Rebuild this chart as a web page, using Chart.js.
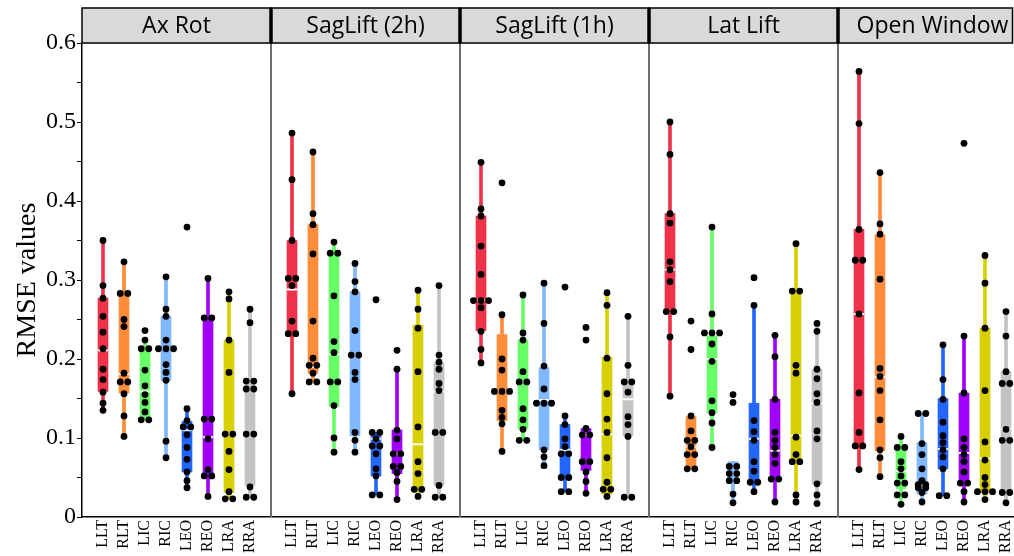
<!DOCTYPE html>
<html>
<head>
<meta charset="utf-8">
<script src="https://cdn.jsdelivr.net/npm/chart.js@4.4.1/dist/chart.umd.min.js"></script>
<style>
html,body{margin:0;padding:0;background:#fff;overflow:hidden;}
#wrap{width:1014px;height:556px;}
canvas{display:block;}
</style>
</head>
<body>
<div id="wrap"><canvas id="c" width="1014" height="556"></canvas></div>
<script>
// ---- categories, panels, colours ----
const categories = ['LLT','RLT','LIC','RIC','LEO','REO','LRA','RRA'];
const panels = ['Ax Rot','SagLift (2h)','SagLift (1h)','Lat Lift','Open Window'];
const catColors = ['#ee324a','#ff8c38','#66ff66','#7fb8ff','#2266ff','#a000ff','#d8cf00','#c3c3c3'];

// ---- box statistics per category: [whiskerLow, q1, median, q3, whiskerHigh] ----
const axRotStats = [
  [0.135,0.159,0.211,0.277,0.350],[0.102,0.157,0.181,0.283,0.323],[0.123,0.123,0.159,0.213,0.224],[0.075,0.173,0.213,0.254,0.304],
  [0.037,0.057,0.110,0.121,0.137],[0.026,0.052,0.101,0.252,0.302],[0.023,0.031,0.105,0.224,0.285],[0.025,0.040,0.105,0.172,0.263]
];
const sag2hStats = [
  [0.156,0.229,0.288,0.350,0.486],[0.171,0.182,0.190,0.370,0.462],[0.082,0.140,0.206,0.334,0.348],[0.082,0.103,0.205,0.285,0.321],
  [0.028,0.052,0.099,0.107,0.107],[0.022,0.055,0.080,0.110,0.187],[0.026,0.031,0.092,0.243,0.287],[0.025,0.040,0.159,0.195,0.293]
];
const sag1hStats = [
  [0.195,0.236,0.274,0.381,0.449],[0.083,0.122,0.159,0.231,0.256],[0.097,0.112,0.171,0.224,0.281],[0.065,0.085,0.148,0.189,0.296],
  [0.032,0.050,0.085,0.117,0.128],[0.030,0.059,0.104,0.112,0.112],[0.026,0.029,0.105,0.202,0.284],[0.025,0.103,0.149,0.171,0.254]
];
const latLiftStats = [
  [0.153,0.260,0.313,0.384,0.500],[0.061,0.064,0.089,0.127,0.128],[0.088,0.132,0.200,0.229,0.367],[0.018,0.045,0.055,0.070,0.070],
  [0.032,0.043,0.099,0.144,0.268],[0.019,0.052,0.084,0.149,0.230],[0.019,0.070,0.103,0.286,0.346],[0.017,0.042,0.144,0.187,0.245]
];
const openWinStats = [
  [0.060,0.090,0.257,0.364,0.564],[0.051,0.084,0.177,0.357,0.436],[0.016,0.036,0.058,0.088,0.102],[0.019,0.029,0.041,0.094,0.131],
  [0.027,0.061,0.086,0.150,0.218],[0.019,0.043,0.081,0.157,0.229],[0.022,0.031,0.074,0.239,0.331],[0.018,0.031,0.111,0.184,0.260]
];

// ---- individual values per category ----
const axRotPoints = [
  [0.350,0.293,0.277,0.254,0.234,0.213,0.187,0.174,0.158,0.144,0.135],
  [0.323,0.283,0.283,0.250,0.241,0.182,0.171,0.171,0.156,0.128,0.102],
  [0.236,0.224,0.213,0.213,0.186,0.166,0.155,0.145,0.133,0.123,0.123],
  [0.304,0.263,0.254,0.224,0.213,0.213,0.213,0.193,0.183,0.173,0.096,0.075],
  [0.367,0.137,0.122,0.114,0.114,0.104,0.088,0.073,0.057,0.046,0.037],
  [0.302,0.252,0.252,0.124,0.124,0.099,0.060,0.052,0.052,0.026],
  [0.285,0.276,0.224,0.183,0.105,0.105,0.083,0.060,0.032,0.023,0.023],
  [0.263,0.246,0.172,0.172,0.162,0.162,0.105,0.105,0.038,0.025,0.025]
];
const sag2hPoints = [
  [0.486,0.427,0.350,0.302,0.302,0.293,0.248,0.232,0.232,0.156],
  [0.462,0.384,0.370,0.333,0.248,0.201,0.192,0.192,0.182,0.171,0.171],
  [0.348,0.334,0.334,0.280,0.222,0.208,0.171,0.171,0.141,0.100,0.082],
  [0.321,0.298,0.285,0.236,0.205,0.205,0.183,0.174,0.107,0.097,0.082],
  [0.275,0.107,0.107,0.099,0.090,0.090,0.080,0.061,0.052,0.028,0.028],
  [0.211,0.187,0.110,0.099,0.080,0.080,0.064,0.064,0.056,0.045,0.022],
  [0.287,0.263,0.239,0.184,0.114,0.070,0.055,0.035,0.035,0.026],
  [0.293,0.205,0.196,0.187,0.169,0.160,0.107,0.107,0.040,0.025,0.025]
];
const sag1hPoints = [
  [0.449,0.390,0.381,0.343,0.307,0.274,0.274,0.274,0.265,0.235,0.212,0.195],
  [0.423,0.256,0.200,0.186,0.159,0.159,0.159,0.135,0.126,0.118,0.083],
  [0.281,0.233,0.224,0.184,0.171,0.171,0.137,0.123,0.111,0.097,0.097],
  [0.296,0.245,0.191,0.162,0.144,0.144,0.144,0.085,0.076,0.065],
  [0.291,0.128,0.117,0.099,0.089,0.080,0.080,0.050,0.050,0.032,0.032],
  [0.240,0.224,0.112,0.104,0.104,0.070,0.070,0.057,0.045,0.030],
  [0.284,0.268,0.201,0.156,0.124,0.107,0.075,0.044,0.035,0.035,0.026],
  [0.254,0.192,0.171,0.171,0.158,0.127,0.117,0.102,0.025,0.025]
];
const latLiftPoints = [
  [0.500,0.459,0.384,0.372,0.323,0.313,0.298,0.260,0.260,0.228,0.153],
  [0.248,0.212,0.128,0.109,0.097,0.097,0.089,0.079,0.079,0.061,0.061],
  [0.367,0.257,0.233,0.233,0.233,0.219,0.197,0.147,0.132,0.119,0.088],
  [0.155,0.145,0.064,0.064,0.055,0.055,0.046,0.046,0.029,0.018],
  [0.303,0.268,0.122,0.108,0.097,0.070,0.058,0.044,0.044,0.032],
  [0.230,0.203,0.149,0.107,0.097,0.088,0.079,0.068,0.048,0.048,0.019],
  [0.346,0.286,0.286,0.192,0.182,0.101,0.079,0.070,0.070,0.028,0.019],
  [0.245,0.235,0.187,0.175,0.156,0.145,0.109,0.099,0.042,0.028,0.017]
];
const openWinPoints = [
  [0.564,0.498,0.364,0.325,0.325,0.257,0.157,0.107,0.090,0.090,0.060],
  [0.436,0.371,0.358,0.301,0.188,0.178,0.160,0.123,0.085,0.075,0.051],
  [0.102,0.088,0.088,0.070,0.061,0.052,0.043,0.043,0.028,0.028,0.016],
  [0.131,0.131,0.093,0.079,0.061,0.046,0.041,0.041,0.037,0.037,0.031,0.019],
  [0.218,0.174,0.149,0.120,0.103,0.094,0.085,0.076,0.061,0.027,0.027],
  [0.473,0.229,0.157,0.099,0.088,0.079,0.070,0.057,0.043,0.043,0.032,0.019],
  [0.331,0.296,0.239,0.160,0.095,0.072,0.050,0.041,0.032,0.032,0.032,0.022],
  [0.260,0.229,0.184,0.169,0.169,0.111,0.097,0.097,0.031,0.031,0.018]
];

const yTickValues = [0,0.1,0.2,0.3,0.4,0.5,0.6];

// ---- build datasets ----
const allStats = [axRotStats, sag2hStats, sag1hStats, latLiftStats, openWinStats];
const allPoints = [axRotPoints, sag2hPoints, sag1hPoints, latLiftPoints, openWinPoints];
const SLOTS = 9;               // 8 categories + 1 gap per panel
const pos = (p, i) => p * SLOTS + 1 + i;
const DODGE = 0.36;            // horizontal spacing of tied dots (in category units)

const whiskers = [], boxes = [], medians = [], dots = [], barColors = [];
allStats.forEach((stats, p) => {
  stats.forEach((s, i) => {
    const x = pos(p, i);
    whiskers.push({x: x, y: [s[0], s[4]]});
    boxes.push({x: x, y: [s[1], s[3]]});
    medians.push({x: x, y: s[2]});
    barColors.push(catColors[i]);
  });
});
allPoints.forEach((cats, p) => {
  cats.forEach((vals, i) => {
    const x = pos(p, i);
    const groups = {};
    vals.forEach(v => { (groups[v] = groups[v] || []).push(v); });
    Object.keys(groups).forEach(k => {
      const g = groups[k], n = g.length;
      g.forEach((v, j) => dots.push({x: x + (j - (n - 1) / 2) * DODGE, y: v}));
    });
  });
});
const tickPositions = [];
panels.forEach((_, p) => categories.forEach((_, i) => tickPositions.push(pos(p, i))));

const LEFT = 82, BOTTOM_H = 39, TOP = 43, SLOT_PX = 21;
const xMax = (1014 - LEFT) / SLOT_PX;

const facetPlugin = {
  id: 'facets',
  beforeDatasetsDraw(chart) {
    const {ctx, chartArea: a, scales: {x}} = chart;
    ctx.save();
    ctx.strokeStyle = '#6e6e6e';
    ctx.lineWidth = 2;
    for (let p = 1; p < panels.length; p++) {
      const px = Math.round(x.getPixelForValue(p * SLOTS));
      ctx.beginPath(); ctx.moveTo(px, a.top); ctx.lineTo(px, a.bottom); ctx.stroke();
    }
    ctx.restore();
  },
  afterDraw(chart) {
    const {ctx, chartArea: a, scales: {x}} = chart;
    ctx.save();
    const top = 8, bot = a.top;
    panels.forEach((name, p) => {
      const x0 = x.getPixelForValue(p * SLOTS);
      const x1full = x.getPixelForValue((p + 1) * SLOTS);
      const x1 = Math.min(x1full, a.right - 1.5);
      ctx.fillStyle = '#d9d9d9';
      ctx.fillRect(x0, top, x1 - x0, bot - top);
      ctx.strokeStyle = '#000';
      ctx.lineWidth = 1.5;
      ctx.strokeRect(x0, top, x1 - x0, bot - top);
      ctx.fillStyle = '#000';
      ctx.font = '23px "Open Sans"';
      ctx.textAlign = 'center';
      ctx.textBaseline = 'middle';
      ctx.fillText(name, (x0 + x1full) / 2, (top + bot) / 2 + 1);
    });
    ctx.lineWidth = 3.5;
    for (let p = 1; p < panels.length; p++) {
      const px = Math.round(x.getPixelForValue(p * SLOTS));
      ctx.beginPath(); ctx.moveTo(px, top); ctx.lineTo(px, bot); ctx.stroke();
    }
    ctx.restore();
  }
};

new Chart(document.getElementById('c'), {
  type: 'bar',
  data: {
    datasets: [
      {type: 'scatter', data: dots, pointRadius: 3.4, pointHoverRadius: 3.4,
       pointBackgroundColor: '#000', pointBorderWidth: 0, order: 0},
      {type: 'scatter', data: medians, pointStyle: 'line', pointRadius: 5, pointHoverRadius: 5,
       pointBorderColor: '#fff', borderColor: '#fff', pointBorderWidth: 2, order: 1},
      {type: 'bar', data: boxes, backgroundColor: barColors, barThickness: 10, grouped: false, borderWidth: 0, order: 2},
      {type: 'bar', data: whiskers, backgroundColor: barColors, barThickness: 3, grouped: false, borderWidth: 0, order: 3}
    ]
  },
  options: {
    responsive: false,
    devicePixelRatio: 1,
    animation: false,
    events: [],
    layout: {autoPadding: false, padding: {top: TOP, left: 0, right: 0, bottom: 0}},
    plugins: {legend: {display: false}, tooltip: {enabled: false}},
    scales: {
      x: {
        type: 'linear', min: 0, max: xMax, offset: false,
        grid: {display: false, offset: false, drawTicks: false, tickLength: 0},
        border: {display: true, color: '#000', width: 1.5},
        afterBuildTicks: s => { s.ticks = tickPositions.map(v => ({value: v})); },
        afterFit: s => { s.height = BOTTOM_H; s.paddingLeft = 0; s.paddingRight = 0; },
        ticks: {
          autoSkip: false, minRotation: 90, maxRotation: 90, padding: 3,
          color: '#000', font: {family: '"Liberation Serif", "Times New Roman", serif', size: 16},
          callback: v => { const i = Math.round(v) % SLOTS - 1; return categories[i] || ''; }
        }
      },
      y: {
        type: 'linear', min: 0, max: 0.6,
        grid: {display: true, drawOnChartArea: false, drawTicks: true, tickLength: 5, color: '#000', lineWidth: 1},
        border: {display: true, color: '#000', width: 1.5},
        afterFit: s => { s.width = LEFT; s.paddingTop = 0; s.paddingBottom = 0; },
        ticks: {
          stepSize: 0.05, autoSkip: false, padding: 1, color: '#000',
          font: {family: '"Liberation Serif", "Times New Roman", serif', size: 24},
          callback: v => {
            const t = yTickValues.find(q => Math.abs(q - v) < 1e-6);
            return t === undefined ? '' : (t === 0 ? '0' : t.toFixed(1));
          }
        },
        title: {
          display: true, text: 'RMSE values', color: '#000',
          font: {family: '"Liberation Serif", "Times New Roman", serif', size: 28},
          padding: {top: 11, bottom: 0}
        }
      }
    }
  },
  plugins: [facetPlugin]
});
</script>
</body>
</html>
